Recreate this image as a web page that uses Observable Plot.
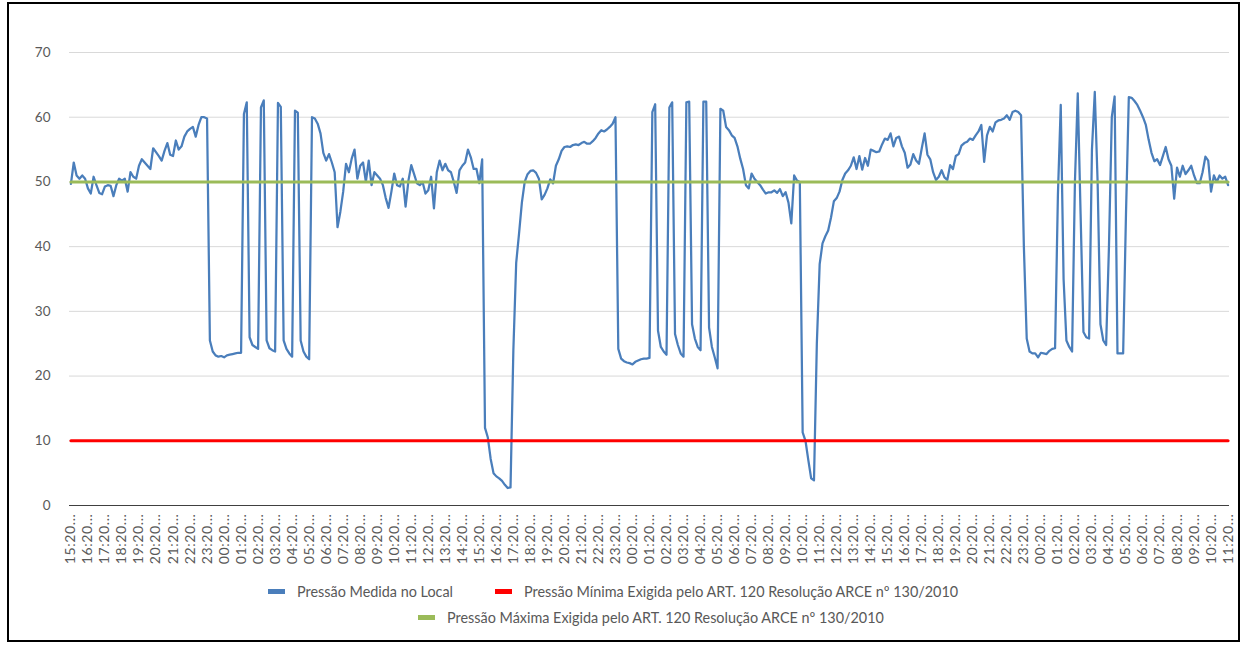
<!DOCTYPE html>
<html><head><meta charset="utf-8">
<script src="https://cdn.jsdelivr.net/npm/d3@7"></script>
<script src="https://cdn.jsdelivr.net/npm/@observablehq/plot@0.6"></script>
<style>
body{margin:0;background:#fff;}
#wrap{position:relative;width:1245px;height:646px;overflow:hidden;font-family:Lato,"Liberation Sans",sans-serif;}
#frame{position:absolute;left:7px;top:2px;width:1233px;height:640px;border:2px solid #000;box-sizing:border-box;pointer-events:none}
#chart{position:absolute;left:0;top:0}
.leg{position:absolute;display:flex;align-items:center;font-size:14.4px;color:#595959;white-space:nowrap}
.sw{display:inline-block;width:17px;height:5px;margin-right:12px}
.item{display:flex;align-items:center;margin-right:42px}
.xt text{letter-spacing:0.6px}
</style></head><body>
<div id="wrap">
<div id="chart"></div>
<div id="legend1" class="leg" style="left:268px;top:583px"></div>
<div id="legend2" class="leg" style="left:418px;top:609px"></div>
<div id="frame"></div>
</div>
<script>
// Hour labels (one every 6 readings of 10 minutes)
const hourLabels = [
"15:20...","16:20...","17:20...","18:20...","19:20...","20:20...","21:20...","22:20...","23:20...",
"00:20...","01:20...","02:20...","03:20...","04:20...","05:20...","06:20...","07:20...","08:20...","09:20...","10:20...","11:20...",
"12:20...","13:20...","14:20...","15:20...","16:20...","17:20...","18:20...","19:20...","20:20...","21:20...","22:20...","23:20...",
"00:20...","01:20...","02:20...","03:20...","04:20...","05:20...","06:20...","07:20...","08:20...","09:20...","10:20...","11:20...",
"12:20...","13:20...","14:20...","15:20...","16:20...","17:20...","18:20...","19:20...","20:20...","21:20...","22:20...","23:20...",
"00:20...","01:20...","02:20...","03:20...","04:20...","05:20...","06:20...","07:20...","08:20...","09:20...","10:20...","11:20..."
];
const readingsPerLabel = 6;

// Pressão Medida no Local (mca), 10-minute readings
const pressure = [
49.7,53.0,51.0,50.5,51.0,50.5, 49.0,48.2,50.8,49.5,48.3,48.1, 49.3,49.5,49.4,47.8,49.5,50.5, 50.2,50.5,48.5,51.5,50.8,50.5,
52.5,53.5,53.0,52.5,52.0,55.2, 54.6,54.0,53.3,54.8,56.0,54.2, 54.0,56.4,55.0,55.5,57.0,57.8, 58.2,58.5,57.0,58.8,60.0,60.0,
59.8,25.5,23.8,23.2,23.0,23.1, 22.9,23.2,23.3,23.4,23.5,23.6, 23.6,60.5,62.3,26.0,24.8,24.5, 24.2,61.5,62.6,25.5,24.3,24.0,
23.8,62.2,61.6,25.5,24.2,23.5, 23.0,61.0,60.7,25.5,23.8,23.0, 22.6,60.0,59.8,59.0,57.5,54.5, 53.3,54.3,53.0,51.5,43.0,45.4,
48.5,52.8,51.5,53.6,55.0,50.5, 52.5,53.0,50.0,53.3,49.5,51.5, 51.0,50.5,49.5,47.5,46.0,48.5, 51.3,49.5,49.3,50.5,46.2,50.2,
52.6,51.2,49.8,49.5,50.0,48.2, 48.7,50.8,45.9,51.5,53.3,51.8, 52.8,51.8,51.5,50.0,48.3,51.8, 52.5,53.0,55.0,53.8,52.0,52.0,
49.8,53.5,12.0,10.5,7.2,5.0, 4.5,4.2,3.8,3.2,2.7,2.8, 24.0,37.5,42.0,46.8,50.0,51.2, 51.7,51.8,51.4,50.5,47.3,48.0,
49.0,50.4,49.8,52.5,53.5,54.8, 55.4,55.5,55.4,55.7,55.8,55.7, 56.0,56.2,55.9,55.9,56.3,56.8, 57.5,58.0,57.8,58.1,58.5,59.0,
60.0,24.2,22.7,22.3,22.1,22.0, 21.8,22.2,22.4,22.6,22.7,22.7, 22.8,60.8,62.0,27.0,24.5,23.8, 23.3,61.5,62.3,26.5,24.8,23.5,
23.0,62.3,62.4,28.0,25.8,24.5, 24.0,62.4,62.4,27.5,24.5,22.9, 21.2,61.3,61.0,58.5,58.0,57.2, 56.8,55.5,53.6,52.0,49.5,49.0,
51.3,50.5,50.0,49.5,48.8,48.2, 48.4,48.4,48.7,48.3,48.9,47.8, 48.4,46.8,43.6,51.0,50.2,50.0, 11.3,10.0,7.0,4.2,3.9,25.0,
37.3,40.5,41.6,42.5,44.5,47.0, 47.5,48.5,50.3,51.3,51.8,52.5, 53.8,52.0,54.0,51.9,53.7,52.5, 55.0,54.8,54.6,54.7,55.8,56.7,
56.5,57.5,55.5,56.8,57.0,55.5, 54.5,52.2,52.7,54.3,53.3,52.8, 55.2,57.5,54.2,53.5,51.5,50.3, 50.8,51.8,50.7,50.3,52.6,52.0,
54.0,54.3,55.6,56.0,56.2,56.7, 56.5,57.2,57.8,58.8,53.1,57.2, 58.5,57.8,59.2,59.5,59.6,59.8, 60.3,59.6,60.8,61.0,60.8,60.3,
40.0,25.8,23.8,23.5,23.5,22.9, 23.6,23.5,23.4,23.9,24.2,24.3, 48.0,61.9,35.0,25.5,24.5,23.8, 50.0,63.7,45.0,26.8,26.0,25.8,
55.0,63.9,50.0,28.0,25.5,24.8, 40.0,60.0,63.2,23.5,23.5,23.5, 45.0,63.1,63.0,62.5,61.9,61.0, 60.0,58.8,56.5,54.5,53.2,53.5,
52.6,54.0,55.4,53.5,52.5,47.4, 52.2,50.8,52.5,51.2,51.8,52.5, 51.0,49.8,49.8,51.5,53.9,53.3, 48.5,51.0,50.0,51.0,50.5,50.8,
49.5
];

// Limits (ART. 120 Resolução ARCE nº 130/2010)
const minLimit = 10;
const maxLimit = 50;
const yTicks = [0,10,20,30,40,50,60,70];

const seriesNames = [
  "Pressão Medida no Local",
  "Pressão Mínima Exigida pelo ART. 120 Resolução ARCE nº 130/2010",
  "Pressão Máxima Exigida pelo ART. 120 Resolução ARCE nº 130/2010"
];
const seriesColors = ["#4a7ebb", "#ff0000", "#9bbb59"];

const n = pressure.length;
const idx = d3.range(n);
const tickIdx = hourLabels.map((_, k) => k * readingsPerLabel);

const chart = Plot.plot({
  width: 1245, height: 575,
  marginLeft: 69, marginRight: 16, marginTop: 52, marginBottom: 70,
  x: {domain: [-0.5, n - 0.5], axis: null},
  y: {domain: [0, 70], axis: null},
  style: {fontFamily: 'Lato,"Liberation Sans",sans-serif', color: "#595959", background: "transparent", overflow: "visible"},
  marks: [
    Plot.gridY(yTicks.filter(d => d > 0), {stroke: "#d9d9d9", strokeOpacity: 1, strokeWidth: 1}),
    Plot.axisY(yTicks, {tickSize: 0, tickPadding: 19, label: null, fontSize: 13.5}),
    Plot.axisX(tickIdx, {tickSize: 0, tickRotate: -90, tickPadding: 8, label: null, fontSize: 14, className: "xt",
      tickFormat: d => hourLabels[d / readingsPerLabel]}),
    Plot.ruleY([0], {stroke: "#404040", strokeWidth: 1.2}),
    Plot.lineY(pressure, {x: (d, i) => i, y: d => d, stroke: seriesColors[0], strokeWidth: 2.25}),
    Plot.lineY(idx, {x: d => d, y: () => minLimit, stroke: seriesColors[1], strokeWidth: 3}),
    Plot.lineY(idx, {x: d => d, y: () => maxLimit, stroke: seriesColors[2], strokeWidth: 3})
  ]
});
document.getElementById("chart").appendChild(chart);

function item(k) {
  const el = document.createElement("div");
  el.className = "item";
  const sw = document.createElement("span");
  sw.className = "sw"; sw.style.background = seriesColors[k];
  el.appendChild(sw);
  el.appendChild(document.createTextNode(seriesNames[k]));
  return el;
}
document.getElementById("legend1").append(item(0), item(1));
document.getElementById("legend2").append(item(2));
</script>
</body></html>
